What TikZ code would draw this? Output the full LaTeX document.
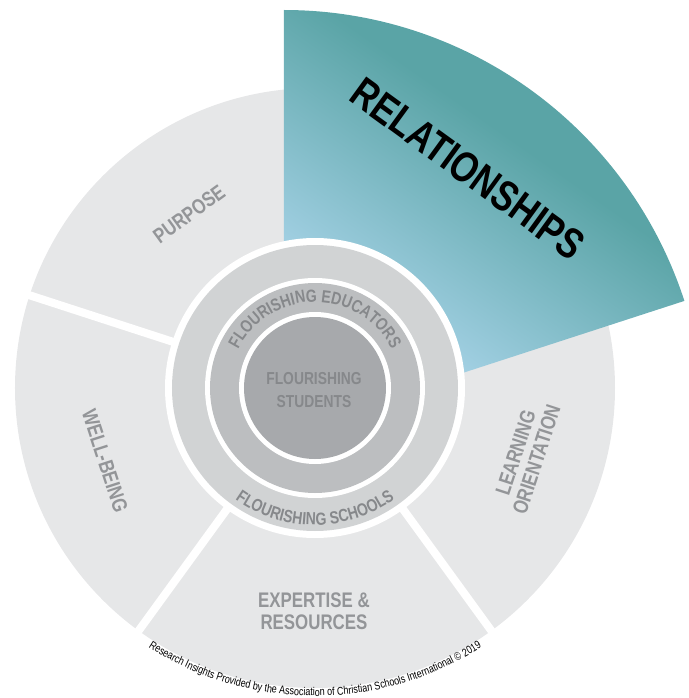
\documentclass[tikz,border=0pt]{standalone}
\usepackage{fontspec}
\usepackage{tikz}
\usetikzlibrary{decorations.text}
\setmainfont{Liberation Sans}
\newfontfamily\narrowfont[FakeStretch=0.8]{Liberation Sans}

\definecolor{sectorgrey}{HTML}{E6E7E8}
\definecolor{schoolgrey}{HTML}{D1D3D4}
\definecolor{educgrey}{HTML}{BCBEC0}
\definecolor{studgrey}{HTML}{A7A9AC}
\definecolor{labelgrey}{HTML}{939598}
\definecolor{ringgrey}{HTML}{86888B}
\definecolor{skyblue}{HTML}{B6DCF4}
\definecolor{tealgreen}{HTML}{5AA4A6}

\pgfdeclarehorizontalshading{relshade}{100bp}{color(0bp)=(skyblue); color(26bp)=(skyblue); color(60bp)=(tealgreen); color(100bp)=(tealgreen)}

\begin{document}
\begin{tikzpicture}[x=0.025cm, y=0.025cm,
		sectorgap/.style={white, line width=5.7pt},
		outerlabel/.style={font=\narrowfont\bfseries\fontsize{15}{15.6}\selectfont, text=labelgrey, align=center, inner sep=0pt},
		ringtext/.style={decorate, decoration={text along path, text align=center,
			text={|\narrowfont\bfseries\fontsize{12.5}{12.5}\selectfont\color{ringgrey}|#1}}}]
		\useasboundingbox (-315,-310) rectangle (374,388);
		
		\fill[sectorgrey] (0,0) circle (300);
		\foreach \a in {162,234,306}
			\draw[sectorgap] (0,0) -- (\a:310);
		
		% relationships wedge
		\coordinate (apex) at (-31,-43);
		\shade[shading=relshade, shading angle=55] (apex) -- ++(18:421) arc[start angle=18, end angle=90, radius=421] -- cycle;
		
		\fill[white] (0,0) circle (150);
		\fill[schoolgrey] (0,0) circle (143);
		\fill[white] (0,0) circle (110);
		\fill[educgrey] (0,0) circle (105);
		\fill[white] (0,0) circle (76);
		\fill[studgrey] (0,0) circle (71);
		
		\node[outerlabel, font=\narrowfont\bfseries\fontsize{30.5}{30.5}\selectfont, text=black, rotate=-36] (relationships) at (153,219) {RELATIONSHIPS};
		\node[outerlabel, rotate=36] (purpose) at (-126,174) {PURPOSE};
		\node[outerlabel, rotate=-72] (wellbeing) at (-210,-73) {WELL-BEING};
		\node[outerlabel] (expertise) at (-1,-223) {EXPERTISE \&\\RESOURCES};
		\node[outerlabel, rotate=72] (learning) at (211,-68) {LEARNING\\ORIENTATION};
		\node[outerlabel, font=\narrowfont\bfseries\fontsize{12.3}{17}\selectfont, text=ringgrey] (students) at (-1,-2) {FLOURISHING\\STUDENTS};
		
		\path[ringtext={FLOURISHING EDUCATORS}] (153:86) arc[start angle=153, end angle=27, radius=86];
		\path[ringtext={FLOURISHING SCHOOLS}] (232:137) arc[start angle=232, end angle=308, radius=137];
		\path[decorate, decoration={text along path, text align=center,
			text={|\narrowfont\fontsize{8}{8}\selectfont|Research Insights Provided by the Association of Christian Schools International © 2019}}]
		(236:308) arc[start angle=236, end angle=304, radius=308];
		
	\end{tikzpicture}
\end{document}
